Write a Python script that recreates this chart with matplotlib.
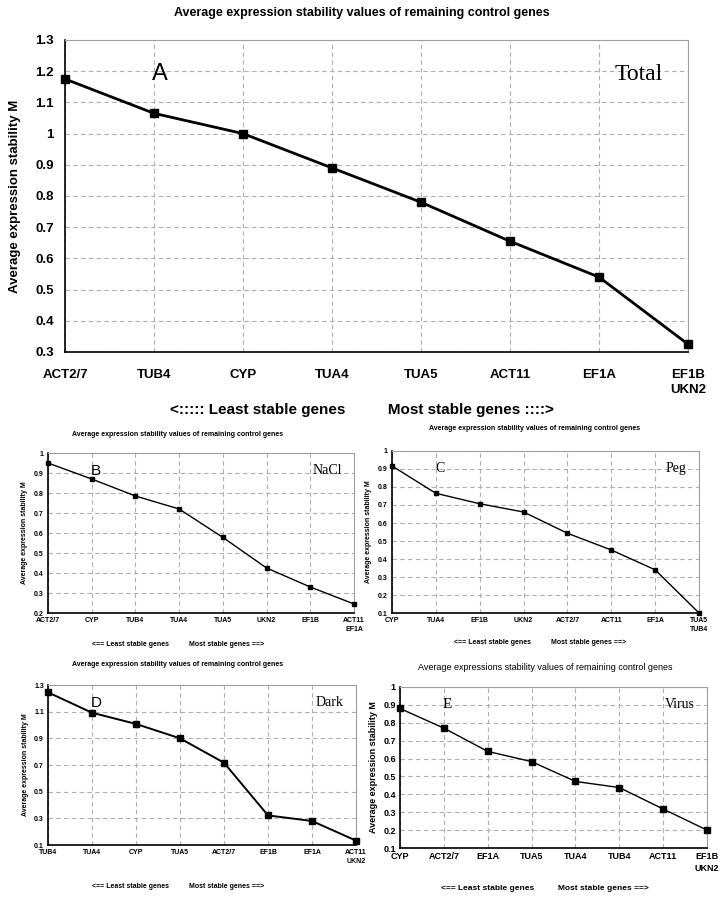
import matplotlib
matplotlib.use("Agg")
import matplotlib.pyplot as plt

# ---- data ----
genes_a = ["ACT2/7", "TUB4", "CYP", "TUA4", "TUA5", "ACT11", "EF1A", "EF1B\nUKN2"]
m_a = [1.175, 1.065, 1.0, 0.89, 0.78, 0.655, 0.54, 0.325]

genes_b = ["ACT2/7", "CYP", "TUB4", "TUA4", "TUA5", "UKN2", "EF1B", "ACT11\nEF1A"]
m_b = [0.95, 0.87, 0.785, 0.72, 0.578, 0.425, 0.33, 0.245]

genes_c = ["CYP", "TUA4", "EF1B", "UKN2", "ACT2/7", "ACT11", "EF1A", "TUA5\nTUB4"]
m_c = [0.917, 0.765, 0.707, 0.661, 0.543, 0.45, 0.34, 0.1]

genes_d = ["TUB4", "TUA4", "CYP", "TUA5", "ACT2/7", "EF1B", "EF1A", "ACT11\nUKN2"]
m_d = [1.245, 1.092, 1.008, 0.9, 0.717, 0.322, 0.28, 0.133]

genes_e = ["CYP", "ACT2/7", "EF1A", "TUA5", "TUA4", "TUB4", "ACT11", "EF1B\nUKN2"]
m_e = [0.88, 0.77, 0.64, 0.583, 0.472, 0.438, 0.318, 0.2]

yticks_a = [0.3, 0.4, 0.5, 0.6, 0.7, 0.8, 0.9, 1.0, 1.1, 1.2, 1.3]
yticks_b = [0.2, 0.3, 0.4, 0.5, 0.6, 0.7, 0.8, 0.9, 1.0]
yticks_c = [0.1, 0.2, 0.3, 0.4, 0.5, 0.6, 0.7, 0.8, 0.9, 1.0]
yticks_d = [0.1, 0.3, 0.5, 0.7, 0.9, 1.1, 1.3]
yticks_e = [0.1, 0.2, 0.3, 0.4, 0.5, 0.6, 0.7, 0.8, 0.9, 1.0]

title = "Average expression stability values of remaining control genes"
ylab = "Average expression stability M"

W, H = 723, 898
fig = plt.figure(figsize=(W / 100, H / 100), dpi=100)
SANS = "Liberation Sans"
SERIF = "Liberation Serif"


def box(x0, y0, x1, y1):
    return [x0 / W, 1 - y1 / H, (x1 - x0) / W, (y1 - y0) / H]


def panel(rect, genes, vals, yt, letter, cond, fs, lw, ms, letter_fs, letter_font, cond_fs):
    ax = fig.add_axes(box(*rect))
    x = list(range(len(genes)))
    ax.plot(x, vals, color="black", linewidth=lw, marker="s", markersize=ms,
            clip_on=False, zorder=3)
    ax.set_xlim(0, len(genes) - 1)
    ax.set_ylim(yt[0], yt[-1])
    ax.set_xticks(x)
    ax.set_xticklabels(genes, fontsize=fs, fontweight="bold", family=SANS,
                       linespacing=1.4)
    ax.set_yticks(yt)
    ax.set_yticklabels(["%g" % v for v in yt], fontsize=fs, fontweight="bold",
                       family=SANS)
    ax.grid(True, color="#b0b0b0", linestyle=(0, (4, 3)), linewidth=0.8)
    ax.tick_params(length=0, pad=4)
    for s in ["top", "right"]:
        ax.spines[s].set_color("#a0a0a0")
    for s in ["left", "bottom"]:
        ax.spines[s].set_color("black")
        ax.spines[s].set_linewidth(1.2)
    ax.set_ylabel(ylab, fontsize=fs, fontweight="bold", family=SANS)
    ax.text(0.14, 0.89, letter, transform=ax.transAxes, fontsize=letter_fs,
            family=letter_font, va="center")
    ax.text(0.96, 0.89, cond, transform=ax.transAxes, fontsize=cond_fs,
            family=SERIF, va="center", ha="right")
    return ax


# panel A (Total)
ax_a = panel((65, 40, 688, 352), genes_a, m_a, yticks_a, "A", "Total",
             9.5, 2.0, 6, 17, SANS, 17)
ax_a.yaxis.labelpad = 10
ax_a.tick_params(axis="x", pad=12)
ax_a.tick_params(axis="y", pad=8)
fig.text(0.5, 1 - 13 / H, title, ha="center", va="center", fontsize=9,
         fontweight="bold", family=SANS)
fig.text(0.5, 1 - 410 / H, "<::::: Least stable genes          Most stable genes ::::>",
         ha="center", va="center", fontsize=11, fontweight="bold", family=SANS)

# small panels
ax_b = panel((48, 453, 354, 613), genes_b, m_b, yticks_b, "B", "NaCl",
             5, 1.0, 3.5, 11, SANS, 10)
ax_c = panel((392, 451, 699, 613), genes_c, m_c, yticks_c, "C", "Peg",
             5, 1.0, 3.5, 10, SERIF, 10)
ax_d = panel((48, 685, 356, 845), genes_d, m_d, yticks_d, "D", "Dark",
             5, 1.4, 4, 11, SANS, 10)
ax_e = panel((400, 687, 707, 848), genes_e, m_e, yticks_e, "E", "Virus",
             6.5, 1.0, 4, 11, SERIF, 10)
for ax in (ax_b, ax_c, ax_d, ax_e):
    ax.tick_params(pad=3)
    ax.yaxis.labelpad = 4

fig.text(178 / W, 1 - 434 / H, title, ha="center", va="center", fontsize=5,
         fontweight="bold", family=SANS)
fig.text(535 / W, 1 - 429 / H, title, ha="center", va="center", fontsize=5,
         fontweight="bold", family=SANS)
fig.text(178 / W, 1 - 665 / H, title, ha="center", va="center", fontsize=5,
         fontweight="bold", family=SANS)
fig.text(545 / W, 1 - 667 / H,
         "Average expressions stability values of remaining control genes",
         ha="center", va="center", fontsize=6.5, family=SANS)

small_arrow = "<== Least stable genes          Most stable genes ==>"
for xc, yc, fs in [(178, 644, 5), (540, 643, 5), (178, 887, 5), (545, 888, 6)]:
    fig.text(xc / W, 1 - yc / H, small_arrow, ha="center", va="center",
             fontsize=fs, fontweight="bold", family=SANS)

fig.savefig("out.png", dpi=100)
